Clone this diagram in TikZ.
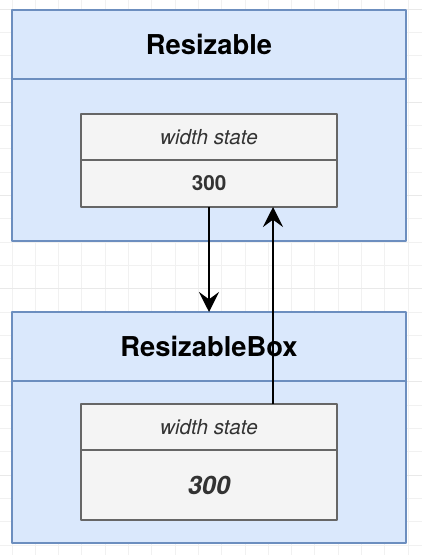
\documentclass[tikz,border=0pt]{standalone}
\usepackage{fontspec}
\setmainfont{TeX Gyre Heros}
\usetikzlibrary{positioning,calc,arrows.meta}
\definecolor{boxfill}{HTML}{DAE8FC}
\definecolor{boxline}{HTML}{6C8EBF}
\definecolor{cellfill}{HTML}{F4F4F4}
\definecolor{cellline}{HTML}{666666}
\definecolor{celltext}{HTML}{333333}
\definecolor{gridline}{HTML}{F1F1F1}
\definecolor{gridbold}{HTML}{E9E9E9}
\begin{document}
\begin{tikzpicture}[x=0.75pt,y=-0.75pt,>={Stealth[length=15pt,width=15pt,inset=5.5pt]},line join=round,
	outer/.style={draw=boxline,fill=boxfill,line width=1.8pt,minimum width=295.5pt,inner sep=0pt,outer sep=0pt},
	head/.style={outer,minimum height=51.75pt,font=\fontsize{20.5}{24}\selectfont\bfseries},
	body/.style={outer,minimum height=121.5pt},
	cell/.style={draw=cellline,fill=cellfill,line width=1.8pt,minimum width=192pt,inner sep=0pt,outer sep=0pt,text=celltext},
	state/.style={cell,minimum height=34.5pt,font=\fontsize{15.5}{18}\selectfont\itshape},
	flow/.style={->,line width=1.6pt}]
	\useasboundingbox (0,0) rectangle (422,555);
	\foreach \k in {-1,...,18}{\draw[gridline,line width=0.75pt] ({12+23.3*\k},0) -- ++(0,555);}
	\foreach \k in {-11,...,14}{\draw[gridline,line width=0.75pt] (0,{312-23.3*\k}) -- ++(422,0);}
	\foreach \k in {-11,-7,...,13}{\draw[gridbold,line width=0.75pt] (0,{312-23.3*\k}) -- ++(422,0);}
	\node[head] (resHead) at (209,44.5) {Resizable};
	\node[body,below=0pt of resHead] (resBody) {};
	\node[state,below=26.25pt of resHead] (resState) {width state};
	\node[cell,below=0pt of resState,minimum height=35.25pt,font=\fontsize{15.5}{18}\selectfont\bfseries] (resVal) {300};
	\node[head,below=53.25pt of resBody] (boxHead) {ResizableBox};
	\node[body,below=0pt of boxHead] (boxBody) {};
	\node[state,below=17.25pt of boxHead] (boxState) {width state};
	\node[cell,below=0pt of boxState,minimum height=52.5pt,font=\fontsize{19}{22}\selectfont\bfseries\itshape] (boxVal) {300};
	\draw[flow] (resVal.south) -- (boxHead.north);
	\draw[flow] ($(boxState.north)+(64,0)$) -- ($(resVal.south)+(64,0)$);
\end{tikzpicture}
\end{document}
